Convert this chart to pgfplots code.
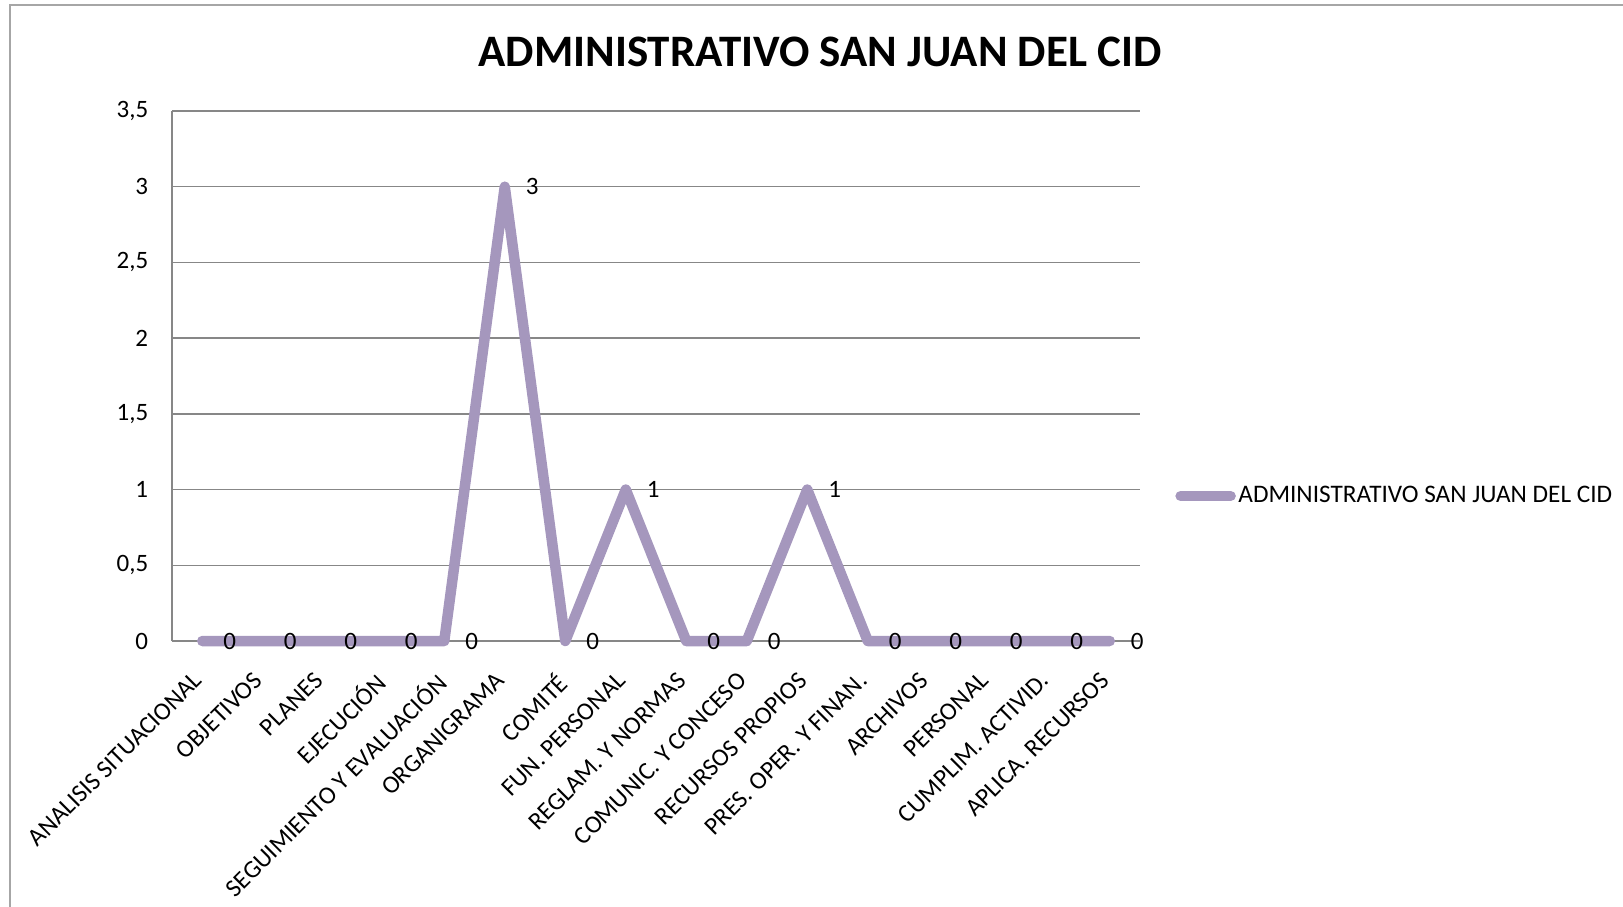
\documentclass[border=0pt]{standalone}
\usepackage{fontspec}
\setmainfont{Carlito}
\usepackage{pgfplots}
\pgfplotsset{compat=1.18}
\definecolor{serie}{HTML}{A597BD}
\definecolor{rejilla}{HTML}{878787}
\definecolor{marco}{HTML}{A6A6A6}

\begin{document}
\begin{tikzpicture}[x=0.4pt,y=0.4pt]
  % page = 1623 x 906 px of the reference, 1 px = 0.4pt
  \useasboundingbox (0,0) rectangle (1623,-906);
  \draw[marco, line width=0.8pt] (10,-930) -- (10,-5) -- (1650,-5);
  \node[font=\fontsize{18}{21}\selectfont\bfseries] at (820,-52) {ADMINISTRATIVO SAN JUAN DEL CID};

  \begin{axis}[
    at={(68.8pt,-256.4pt)}, anchor=south west,
    scale only axis, width=387.2pt, height=212pt,
    xmin=-0.5, xmax=15.5, ymin=0, ymax=3.5,
    axis lines*=left,
    axis line style={rejilla, line width=0.6pt},
    ymajorgrids, grid style={rejilla, line width=0.6pt},
    major tick length=0pt,
    xtick={0,...,15},
    xticklabels={ANALISIS SITUACIONAL, OBJETIVOS, PLANES, EJECUCIÓN,
      SEGUIMIENTO Y EVALUACIÓN, ORGANIGRAMA, COMITÉ, FUN. PERSONAL,
      REGLAM. Y NORMAS, COMUNIC. Y CONCESO, RECURSOS PROPIOS,
      PRES. OPER. Y FINAN., ARCHIVOS, PERSONAL, CUMPLIM. ACTIVID.,
      APLICA. RECURSOS},
    ytick={0,0.5,...,3.5},
    yticklabels={0,{0,5},1,{1,5},2,{2,5},3,{3,5}},
    xticklabel style={xshift=-4.2pt, yshift=-10.2pt, rotate=45, anchor=north east,
      inner sep=1pt, font=\fontsize{10}{12}\selectfont},
    yticklabel style={anchor=east, xshift=-6pt, font=\fontsize{10}{12}\selectfont},
    /pgf/number format/assume math mode=true,
    nodes near coords,
    every node near coord/.append style={anchor=center, xshift=11pt, yshift=0pt,
      font=\fontsize{10}{12}\selectfont, text=black},
    legend style={at={(1.036,0.2736)}, anchor=west, draw=none, fill=none,
      inner sep=0pt, font=\fontsize{10.1}{12}\selectfont,
      nodes={inner sep=1pt}},
    legend cell align=left,
    legend image code/.code={\draw[#1, line cap=round] (0pt,0pt) -- (20pt,0pt);},
    clip=false,
  ]
    \addplot[serie, line width=4.2pt, line cap=round, line join=round]
      coordinates {(0,0) (1,0) (2,0) (3,0) (4,0) (5,3) (6,0) (7,1)
                   (8,0) (9,0) (10,1) (11,0) (12,0) (13,0) (14,0) (15,0)};
    \addlegendentry{ADMINISTRATIVO SAN JUAN DEL CID}
  \end{axis}
\end{tikzpicture}
\end{document}
